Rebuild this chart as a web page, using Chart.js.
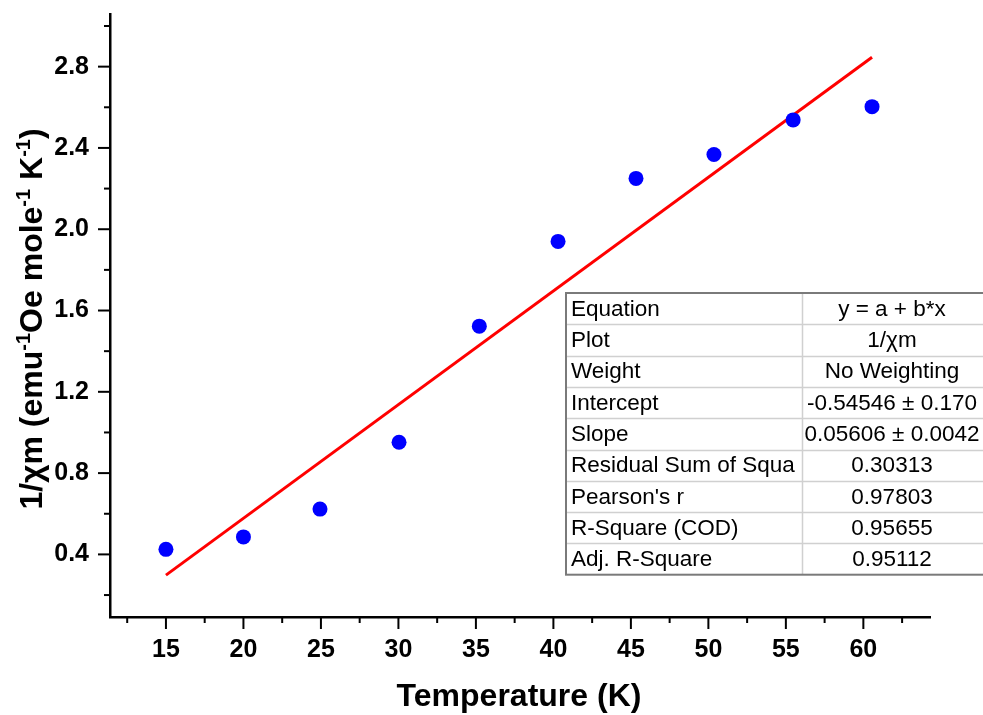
<!DOCTYPE html>
<html>
<head>
<meta charset="utf-8">
<script src="https://cdn.jsdelivr.net/npm/chart.js@4"></script>
<style>
  html, body { margin: 0; padding: 0; background: #fff; }
  #wrap { width: 983px; height: 715px; }
</style>
</head>
<body>
<div id="wrap"><canvas id="fitChart" width="983" height="715"></canvas></div>
<script>
// measured points, 1/chi_m vs T
var tempK = [15.0, 20.0, 24.94, 30.04, 35.22, 40.3, 45.33, 50.36, 55.47, 60.56];
var invChi = [0.425, 0.486, 0.623, 0.952, 1.523, 1.94, 2.25, 2.368, 2.538, 2.603];

// linear fit line ends
var fitX = [15.0, 60.56];
var fitY = [0.298, 2.846];

var xTicks = [15, 20, 25, 30, 35, 40, 45, 50, 55, 60];
var yTicks = [0.4, 0.8, 1.2, 1.6, 2.0, 2.4, 2.8];

var tableLabels = ["Equation", "Plot", "Weight", "Intercept", "Slope",
  "Residual Sum of Squa", "Pearson's r", "R-Square (COD)", "Adj. R-Square"];
var tableValues = ["y = a + b*x", "1/\u03C7m", "No Weighting", "-0.54546 \u00B1 0.170",
  "0.05606 \u00B1 0.0042", "0.30313", "0.97803", "0.95655", "0.95112"];

var FONT = "'Liberation Sans', Arial, sans-serif";

// major + minor ticks drawn outward from the axes
var tickMarks = {
  id: "tickMarks",
  afterDraw: function(chart) {
    var ctx = chart.ctx;
    var xs = chart.scales.x, ys = chart.scales.y;
    var area = chart.chartArea;
    ctx.save();
    ctx.strokeStyle = "#000";
    ctx.lineWidth = 2;
    var step = xTicks[1] - xTicks[0];
    for (var i = 0; i <= xTicks.length; i++) {
      var v = xTicks[0] + (i - 0.5) * step;
      var p = xs.getPixelForValue(v);
      if (p > area.left && p < area.right) {
        ctx.beginPath(); ctx.moveTo(p, area.bottom); ctx.lineTo(p, area.bottom + 6); ctx.stroke();
      }
      if (i < xTicks.length) {
        p = xs.getPixelForValue(xTicks[i]);
        ctx.beginPath(); ctx.moveTo(p, area.bottom); ctx.lineTo(p, area.bottom + 12); ctx.stroke();
      }
    }
    step = yTicks[1] - yTicks[0];
    for (var j = 0; j <= yTicks.length; j++) {
      var w = yTicks[0] + (j - 0.5) * step;
      var q = ys.getPixelForValue(w);
      if (q > area.top && q < area.bottom) {
        ctx.beginPath(); ctx.moveTo(area.left, q); ctx.lineTo(area.left - 6, q); ctx.stroke();
      }
      if (j < yTicks.length) {
        q = ys.getPixelForValue(yTicks[j]);
        ctx.beginPath(); ctx.moveTo(area.left, q); ctx.lineTo(area.left - 12, q); ctx.stroke();
      }
    }
    ctx.restore();
  }
};

// axis titles (y title has superscripts)
var axisTitles = {
  id: "axisTitles",
  afterDraw: function(chart) {
    var ctx = chart.ctx;
    ctx.save();
    ctx.fillStyle = "#000";
    ctx.font = "bold 32px " + FONT;
    ctx.textAlign = "center";
    ctx.textBaseline = "middle";
    ctx.fillText("Temperature (K)", 519, 697);

    var parts = [
      ["1/\u03C7m (emu", false], ["-1", true], ["Oe mole", false],
      ["-1", true], [" K", false], ["-1", true], [")", false]
    ];
    var big = "bold 32px " + FONT, small = "bold 20px " + FONT;
    var total = 0;
    parts.forEach(function(p) {
      ctx.font = p[1] ? small : big;
      total += ctx.measureText(p[0]).width;
    });
    ctx.translate(42, 319);
    ctx.rotate(-Math.PI / 2);
    ctx.textAlign = "left";
    ctx.textBaseline = "alphabetic";
    var x = -total / 2;
    parts.forEach(function(p) {
      ctx.font = p[1] ? small : big;
      ctx.fillText(p[0], x, p[1] ? -12 : 0);
      x += ctx.measureText(p[0]).width;
    });
    ctx.restore();
  }
};

// fit results table, lower right
var fitTable = {
  id: "fitTable",
  afterDraw: function(chart) {
    var ctx = chart.ctx;
    var left = 566, top = 293, mid = 802, right = 990, rowH = 31.3;
    var bottom = top + rowH * tableLabels.length;
    ctx.save();
    ctx.fillStyle = "#fff";
    ctx.fillRect(left, top, right - left, bottom - top);
    ctx.strokeStyle = "#d0d0d0";
    ctx.lineWidth = 1.5;
    for (var i = 1; i < tableLabels.length; i++) {
      var y = Math.round(top + rowH * i) + 0.5;
      ctx.beginPath(); ctx.moveTo(left, y); ctx.lineTo(right, y); ctx.stroke();
    }
    ctx.beginPath(); ctx.moveTo(mid + 0.5, top); ctx.lineTo(mid + 0.5, bottom); ctx.stroke();
    ctx.strokeStyle = "#7a7a7a";
    ctx.lineWidth = 2;
    ctx.strokeRect(left, top, right - left, bottom - top);

    ctx.fillStyle = "#000";
    ctx.font = "22.5px " + FONT;
    ctx.textBaseline = "middle";
    for (var r = 0; r < tableLabels.length; r++) {
      var cy = top + rowH * (r + 0.5) + 1;
      ctx.textAlign = "left";
      ctx.fillText(tableLabels[r], left + 5, cy);
      ctx.textAlign = "center";
      ctx.fillText(tableValues[r], 892, cy);
    }
    ctx.restore();
  }
};

var pts = tempK.map(function(t, i) { return { x: t, y: invChi[i] }; });
var fitPts = fitX.map(function(t, i) { return { x: t, y: fitY[i] }; });

new Chart("fitChart", {
  type: "scatter",
  data: {
    datasets: [{
      label: "1/\u03C7m",
      data: pts,
      backgroundColor: "#0000ff",
      borderColor: "#0000ff",
      pointRadius: 7.5,
      pointBorderWidth: 0
    }, {
      label: "Linear Fit",
      type: "line",
      data: fitPts,
      borderColor: "#ff0000",
      borderWidth: 3,
      pointRadius: 0,
      fill: false
    }]
  },
  options: {
    responsive: false,
    animation: false,
    layout: { padding: { top: 14, right: 53, left: 0, bottom: 0 } },
    plugins: { legend: { display: false }, tooltip: { enabled: false } },
    scales: {
      x: {
        type: "linear",
        min: 11.39,
        max: 64.3,
        afterBuildTicks: function(scale) {
          scale.ticks = xTicks.map(function(v) { return { value: v }; });
        },
        afterFit: function(scale) {
          scale.height = 98;
          scale.paddingLeft = 0;
          scale.paddingRight = 0;
        },
        grid: { display: false },
        border: { display: true, color: "#000", width: 2.5 },
        ticks: {
          color: "#000",
          padding: 10,
          maxRotation: 0,
          font: { family: FONT, size: 25, weight: "bold" }
        }
      },
      y: {
        type: "linear",
        min: 0.092,
        max: 3.059,
        afterBuildTicks: function(scale) {
          scale.ticks = yTicks.map(function(v) { return { value: v }; });
        },
        afterFit: function(scale) {
          scale.width = 110;
          scale.paddingTop = 0;
          scale.paddingBottom = 0;
        },
        grid: { display: false },
        border: { display: true, color: "#000", width: 2.5 },
        ticks: {
          color: "#000",
          padding: 13,
          font: { family: FONT, size: 25, weight: "bold" },
          callback: function(v) { return v.toFixed(1); }
        }
      }
    }
  },
  plugins: [tickMarks, axisTitles, fitTable]
});
</script>
</body>
</html>
